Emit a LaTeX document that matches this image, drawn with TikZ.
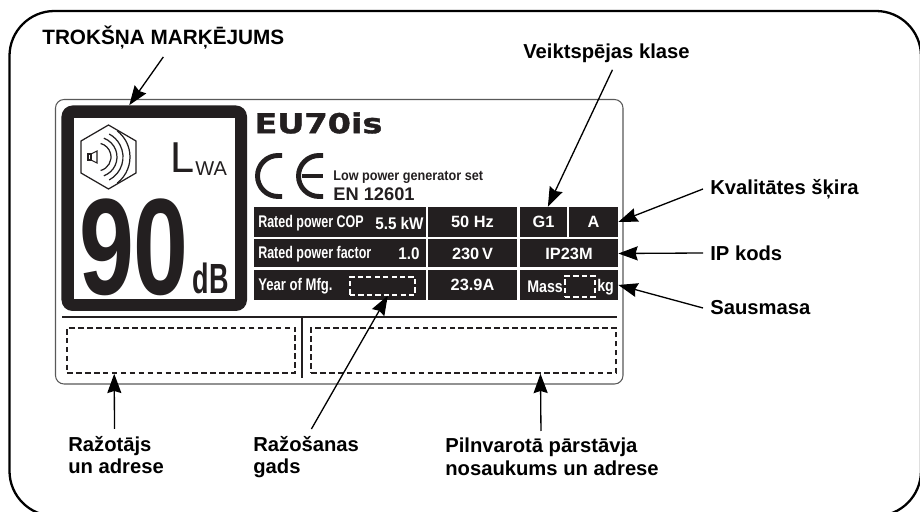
\documentclass[tikz,border=0pt]{standalone}
\usepackage{fontspec}
\setmainfont{Liberation Sans}
\newfontfamily\modelfont[BoldFeatures={FakeBold=1.3}]{DejaVu Sans}
\usetikzlibrary{arrows.meta, calc}
\definecolor{platedark}{HTML}{231F20}

\begin{document}
\begin{tikzpicture}[x=0.2mm, y=-0.2mm]
    \tikzset{
        callout/.style={
                -{Stealth[length=11pt, width=8pt, inset=1.2pt]},
                line width=0.75pt,
                color=black
            },
        caption/.style={
                font=\bfseries\fontsize{11.5}{12.6}\selectfont, inner sep=1.4mm, align=left
            },
        platecell/.style={
                fill=platedark, inner sep=0pt, text=white,
                font=\bfseries\fontsize{9.3}{11}\selectfont
            },
        celltext/.style={
                font=\bfseries\fontsize{9.6}{10}\selectfont, text=white, anchor=west,
                inner sep=0pt, xscale=0.74, transform shape
            },
        blackdash/.style={
                draw=platedark, line width=0.85pt, dash pattern=on 3.2pt off 1.9pt, inner sep=0pt
            },
        whitedash/.style={
                draw=white, line width=0.85pt, dash pattern=on 3pt off 1.8pt, inner sep=0pt
            }
    }
    \useasboundingbox (0, 0) rectangle (920, 512);
    \fill[white] (0, 0) rectangle (920, 512);

    % Outer frame and plate
    \draw[line width=1.3pt, rounded corners=9mm] (9.5, 11) rectangle (921, 516);
    \draw[line width=0.6pt, color=black!65, rounded corners=1.7mm] (55.5, 99.5) rectangle (623, 384);

    % Noise mark
    \node[fill=platedark, rounded corners=2.2mm, inner sep=0pt, minimum width=37.1mm, minimum height=41.1mm] (noisebox) at (154.25, 208.25) {};
    \node[fill=white, inner sep=0pt, minimum width=32.2mm, minimum height=36.2mm] (noisewindow) at (154.5, 208.5) {};
    \draw[line width=0.7pt, color=platedark] (108.5, 125) -- (136, 141) -- (136, 173) -- (108.5, 189) -- (81, 173) -- (81, 141) -- cycle;
    \draw[line width=0.6pt, color=platedark] (88, 154) rectangle (91, 160);
    \draw[line width=0.6pt, color=platedark] (91, 154) -- (97, 151) -- (97, 163) -- (91, 160) -- cycle;
    \foreach \rad/\ang in {14/75, 20/70, 26/62, 33/52} {
            \draw[line width=0.7pt, color=platedark] ($(97, 157)+(\ang:\rad)$) arc (\ang:-\ang:\rad);
        }
    \node[font=\fontsize{24.6}{26}\selectfont, color=platedark, anchor=south west, inner sep=0pt] (lword) at (170, 173) {L};
    \node[font=\fontsize{11.4}{12}\selectfont, color=platedark, anchor=west, inner sep=0pt] (waword) at (195, 169) {WA};
    \node[font=\bfseries\fontsize{78}{78}\selectfont, color=platedark, xscale=0.72, transform shape, inner sep=0pt] (ninety) at (134, 247) {90};
    \node[font=\bfseries\fontsize{24}{26}\selectfont, color=platedark, xscale=0.64, transform shape, inner sep=0pt] (dbword) at (210.5, 278) {dB};

    % Model and CE mark
    \node[font=\modelfont\bfseries\fontsize{15.6}{17}\selectfont, color=platedark, xscale=1.22, transform shape, anchor=west, inner sep=0pt] (modelname) at (254, 123) {EU70is};
    \draw[line width=2.8pt, color=platedark] (282, 155.5) -- (278, 155.5) arc (270:90:20.5) -- (282, 196.5);
    \draw[line width=2.8pt, color=platedark] (323, 155.5) -- (319, 155.5) arc (270:90:20.5) -- (323, 196.5);
    \draw[line width=2.8pt, color=platedark] (302, 176) -- (323, 176);
    \node[font=\bfseries\fontsize{8}{9}\selectfont, color=platedark, xscale=0.9, transform shape, anchor=west, inner sep=0pt] (ratedset) at (333, 177) {Low power generator set};
    \node[font=\bfseries\fontsize{10.4}{12}\selectfont, color=platedark, anchor=west, inner sep=0pt] (normcode) at (333, 194) {EN 12601};

    % Rating table
    \node[platecell, minimum width=34.4mm, minimum height=6mm] (copcell) at (340, 222) {};
    \node[platecell, minimum width=34.4mm, minimum height=5.6mm] (factorcell) at (340, 253.5) {};
    \node[platecell, minimum width=34.4mm, minimum height=6mm] (yearcell) at (340, 285) {};
    \node[platecell, minimum width=17.8mm, minimum height=6mm] (hzcell) at (472.5, 222) {50 Hz};
    \node[platecell, minimum width=17.8mm, minimum height=5.6mm] (voltcell) at (472.5, 253.5) {230\,V};
    \node[platecell, minimum width=17.8mm, minimum height=6mm] (ampcell) at (472.5, 285) {23.9A};
    \node[platecell, minimum width=9.4mm, minimum height=6mm] (gonecell) at (543.5, 222) {G1};
    \node[platecell, minimum width=9.8mm, minimum height=6mm] (acell) at (593.5, 222) {A};
    \node[platecell, minimum width=19.6mm, minimum height=5.6mm] (ipcell) at (569, 253.5) {IP23M};
    \node[platecell, minimum width=19.6mm, minimum height=6mm] (masscell) at (569, 285) {};

    \node[celltext] (coptext) at (258, 223) {Rated power COP};
    \node[celltext, xscale=1.22] (kwtext) at (375, 223) {5.5 kW};
    \node[celltext] (factortext) at (258, 254) {Rated power factor};
    \node[celltext, xscale=1.22] (onetext) at (398, 254) {1.0};
    \node[celltext, xscale=1.05] (yeartext) at (258, 286) {Year of Mfg.};
    \node[whitedash, minimum width=13mm, minimum height=3.6mm] (yearbox) at (382.5, 286) {};
    \node[celltext, xscale=1.14] (masstext) at (527, 287) {Mass};
    \node[whitedash, minimum width=6mm, minimum height=4.2mm] (massbox) at (580, 286.5) {};
    \node[celltext, xscale=1.14] (kgtext) at (597, 287) {kg};

    % Address fields
    \draw[line width=1pt, color=platedark] (62, 317) -- (617, 317);
    \draw[line width=1pt, color=platedark] (302, 317) -- (302, 378);
    \node[blackdash, minimum width=45.6mm, minimum height=9mm] (makerbox) at (181, 350.5) {};
    \node[blackdash, minimum width=61mm, minimum height=9mm] (agentbox) at (463.5, 350.5) {};

    % Captions
    \node[caption, font=\bfseries\fontsize{11.8}{13}\selectfont, anchor=west] (noiselabel) at (35, 38) {TROKŠŅA MARĶĒJUMS};
    \node[caption, anchor=west] (classlabel) at (516, 53) {Veiktspējas klase};
    \node[caption, anchor=west] (gradelabel) at (703, 189) {Kvalitātes šķira};
    \node[caption, anchor=west] (iplabel) at (703, 253) {IP kods};
    \node[caption, anchor=west] (drylabel) at (703, 308) {Sausmasa};
    \node[caption, anchor=north west] (makerlabel) at (61, 429) {Ražotājs\\un adrese};
    \node[caption, anchor=north west] (yearlabel) at (246, 429) {Ražošanas\\gads};
    \node[caption, anchor=north west] (agentlabel) at (438, 431) {Pilnvarotā pārstāvja\\nosaukums un adrese};

    % Callout arrows
    \draw[callout] (noiselabel.south) -- ([xshift=-14.2pt]noisebox.north);
    \draw[callout] ([xshift=3.4pt]classlabel.south) -- ([xshift=2.5pt]gonecell.north);
    \draw[callout] (gradelabel.west) -- (acell.east);
    \draw[callout] (iplabel.west) -- (ipcell.east);
    \draw[callout] (drylabel.west) -- (masscell.east);
    \draw[callout] ([xshift=-0.9pt]makerlabel.north) -- ([xshift=-38pt]makerbox.south);
    \draw[callout] ([xshift=3pt]yearlabel.north) -- ([xshift=3pt]yearbox.south);
    \draw[callout] ([xshift=-6.3pt]agentlabel.north) -- ([xshift=43.8pt]agentbox.south);
\end{tikzpicture}
\end{document}
